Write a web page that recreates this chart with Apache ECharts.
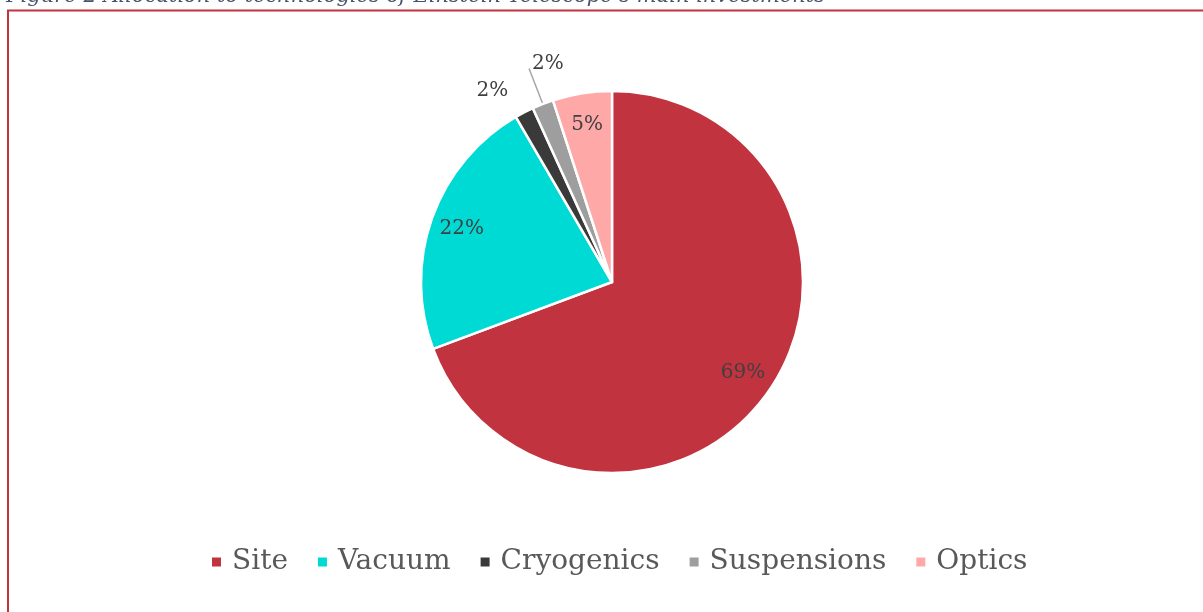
<!DOCTYPE html>
<html>
<head>
<meta charset="utf-8">
<script src="https://cdn.jsdelivr.net/npm/echarts@6/dist/echarts.min.js"></script>
<style>
  html, body { margin: 0; padding: 0; background: #fff; }
  #main { width: 1203px; height: 612px; }
</style>
</head>
<body>
<div id="main"></div>
<script>
(function(){
  'use strict';

  // data
  var categories = ['Site', 'Vacuum', 'Cryogenics', 'Suspensions', 'Optics'];
  var shares = [69.3, 22.3, 1.6, 1.8, 5.0];
  var colors = ['#c1333e', '#00dad5', '#3a3a3a', '#9e9e9e', '#ffa8a8'];
  // which slices carry their label inside the pie
  var labelInside = [true, true, false, false, true];

  var titleText = 'Figure 2 Allocation to technologies of Einstein Telescope\u2019s main investments';

  var serif = '"DejaVu Serif", "Liberation Serif", serif';

  function pct(p){
    return Math.round(p.percent) + '%';
  }

  var mainData = categories.map(function(name, i){
    var out = !labelInside[i];
    return {
      name: name,
      value: shares[i],
      itemStyle: { color: colors[i] },
      label: { show: out, position: 'outside' },
      labelLine: {
        show: i === 3,
        length: i === 3 ? 38 : 24,
        length2: 0
      }
    };
  });

  var ringData = categories.map(function(name, i){
    return {
      name: name,
      value: shares[i],
      label: { show: labelInside[i] }
    };
  });

  var myChart = echarts.init(document.getElementById('main'));

  var option = {
    backgroundColor: '#ffffff',
    animation: false,
    graphic: [
      {
        type: 'rect',
        shape: { x: 8, y: 10.5, width: 1400, height: 800 },
        style: { fill: 'none', stroke: '#c1333e', lineWidth: 2 },
        silent: true
      },
      {
        type: 'text',
        left: 6,
        top: -14,
        style: {
          text: titleText,
          font: 'italic 21px ' + serif,
          fill: '#44546a'
        },
        silent: true
      }
    ],
    legend: {
      data: categories,
      top: 543,
      left: 205,
      icon: 'rect',
      itemWidth: 11,
      itemHeight: 11,
      itemGap: 28,
      textStyle: {
        fontFamily: serif,
        fontSize: 28,
        color: '#595959',
        padding: [0, 0, 0, 5]
      }
    },
    series: [
      {
        name: 'Allocation',
        type: 'pie',
        center: [612, 282],
        radius: 191,
        startAngle: 90,
        clockwise: true,
        avoidLabelOverlap: false,
        itemStyle: { borderColor: '#ffffff', borderWidth: 2.5 },
        label: {
          formatter: pct,
          fontFamily: serif,
          fontSize: 20,
          color: '#404040'
        },
        labelLine: {
          lineStyle: { color: '#a6a6a6', width: 1.5 }
        },
        labelLayout: function(p){
          if (p.dataIndex === 3) {
            return { align: 'left', dx: 8, dy: -5 };
          }
        },
        emphasis: { disabled: true },
        data: mainData
      },
      {
        name: 'labels',
        type: 'pie',
        center: [612, 282],
        radius: [122, 191],
        startAngle: 90,
        clockwise: true,
        silent: true,
        avoidLabelOverlap: false,
        itemStyle: { color: 'rgba(0,0,0,0)' },
        label: {
          position: 'inside',
          formatter: pct,
          fontFamily: serif,
          fontSize: 20,
          color: '#404040'
        },
        labelLine: { show: false },
        emphasis: { disabled: true },
        data: ringData
      }
    ]
  };

  myChart.setOption(option);
}());
</script>
</body>
</html>
